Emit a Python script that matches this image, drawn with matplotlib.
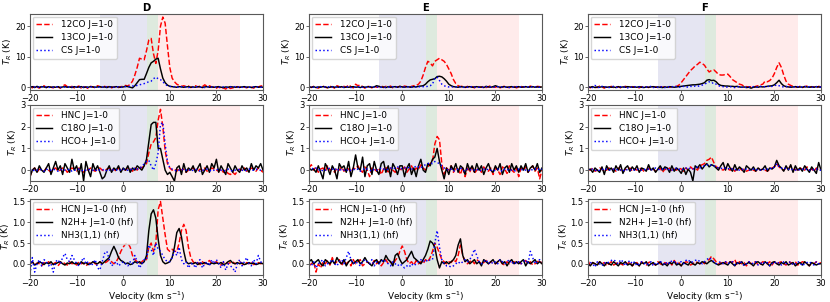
import numpy as np
import matplotlib
matplotlib.use("Agg")
import matplotlib.pyplot as plt

# velocity channels (km/s), 0.5 km/s spacing from -20 to 30
velocity = np.linspace(-20, 30, 101)

panel_titles = ["D", "E", "F"]
row_labels = [["12CO J=1-0", "13CO J=1-0", "CS J=1-0"],
              ["HNC J=1-0", "C18O J=1-0", "HCO+ J=1-0"],
              ["HCN J=1-0 (hf)", "N2H+ J=1-0 (hf)", "NH3(1,1) (hf)"]]

# ---------------- D ----------------
D_12CO = [0.3,-0.2,0.4,0.1,-0.3,0.2,0.5,-0.1,0.3,0.0,
          -0.2,0.3,0.1,-0.3,0.4,0.8,0.2,-0.1,0.3,-0.2,
          0.1,0.4,-0.3,0.2,0.0,-0.4,0.3,0.1,-0.2,0.5,
          0.2,-0.1,0.3,0.0,0.4,-0.2,0.1,0.3,-0.1,0.2,
          0.3,0.6,0.4,1.0,2.0,4.0,6.5,9.5,9.2,9.0,
          12.0,15.5,16.0,11.0,7.8,12.0,20.0,23.0,21.0,13.5,
          6.5,3.0,1.8,1.0,0.6,0.3,0.5,0.2,0.4,-0.1,
          0.3,0.5,0.1,0.4,0.2,0.8,0.3,0.5,0.1,0.0,
          -0.3,0.2,-0.5,-0.2,-0.6,0.1,-0.4,-0.2,0.0,0.2,
          -0.1,0.3,0.1,-0.2,0.2,0.0,-0.3,0.3,0.1,0.4,
          0.5]
D_13CO = [0.1,0.2,-0.1,0.3,0.0,0.2,0.1,-0.1,0.2,0.0,
          0.1,0.0,0.2,-0.1,0.1,0.2,0.0,0.1,-0.1,0.2,
          0.0,0.1,0.2,-0.1,0.1,0.0,0.2,0.1,0.0,0.1,
          0.2,0.0,0.1,-0.1,0.2,0.1,0.0,0.2,0.1,0.0,
          0.1,0.3,0.2,0.0,-0.2,0.5,1.5,2.5,2.6,2.6,
          4.5,6.5,8.0,8.5,9.2,9.5,6.0,3.0,1.5,0.7,
          0.3,0.2,0.1,0.0,0.2,0.1,0.0,0.1,0.2,0.0,
          0.1,0.0,0.2,0.1,-0.1,0.1,0.2,0.0,0.1,0.0,
          0.1,0.2,0.0,-0.1,0.1,0.0,0.2,0.1,0.0,0.1,
          0.0,0.1,0.2,0.0,0.1,-0.1,0.1,0.2,0.0,0.1,
          0.0]
D_CS = [0.2,0.0,0.1,-0.1,0.2,0.1,0.0,0.2,-0.1,0.1,
        0.0,0.2,0.1,0.0,-0.1,0.1,0.2,0.0,0.1,0.0,
        0.1,0.0,0.2,0.1,-0.1,0.0,0.1,0.2,0.0,0.1,
        0.0,0.1,-0.1,0.2,0.0,0.1,0.0,0.2,0.1,0.0,
        0.1,0.2,0.3,0.2,0.4,0.5,0.6,0.8,1.0,1.2,
        1.5,1.8,2.0,2.8,3.3,2.8,2.5,1.8,1.0,0.5,
        0.3,0.1,0.2,0.0,0.1,0.2,0.0,0.1,-0.1,0.1,
        0.0,0.2,0.1,0.0,0.1,-0.1,0.2,0.0,0.1,0.0,
        0.1,0.0,0.2,0.1,0.0,-0.1,0.1,0.0,0.2,0.0,
        0.1,0.0,-0.1,0.1,0.0,0.2,0.1,0.0,0.1,0.0,
        0.1]
D_HNC = [-0.3,0.0,0.1,-0.1,0.05,0.0,-0.05,0.1,0.0,-0.1,
         0.05,0.1,-0.05,0.0,0.1,0.05,-0.1,0.0,0.1,0.05,
         -0.05,0.1,0.0,-0.1,0.05,0.0,0.1,0.0,-0.05,0.05,
         0.1,0.0,-0.05,0.05,0.1,0.0,0.05,-0.05,0.1,0.0,
         0.05,0.0,0.1,0.05,-0.05,0.1,0.0,0.15,0.1,0.2,
         0.3,0.8,1.2,1.3,1.5,2.3,2.8,2.0,0.9,0.3,
         0.1,0.0,0.05,-0.05,0.1,0.0,0.05,-0.1,0.0,0.05,
         0.1,0.0,-0.05,0.05,0.0,0.1,-0.05,0.0,0.1,0.05,
         0.0,-0.05,0.05,-0.1,0.0,-0.15,-0.2,-0.1,-0.2,-0.05,
         0.05,0.0,0.1,-0.05,0.0,0.1,0.05,-0.05,0.1,0.0,
         -0.1]
D_C18O = [-0.3,0.0,0.1,-0.1,0.2,0.0,-0.1,0.1,0.3,-0.2,
          0.1,0.4,0.0,0.2,-0.2,0.3,0.1,-0.1,0.5,0.0,
          0.2,-0.2,0.3,-0.5,0.4,0.0,-0.3,0.3,0.0,0.2,
          -0.1,-0.4,-0.3,0.0,0.2,-0.1,0.1,0.0,0.2,-0.1,
          0.1,0.0,0.2,-0.1,0.1,0.0,0.2,0.1,0.0,0.2,
          0.5,1.3,2.1,2.2,2.2,1.0,1.0,0.5,0.0,-0.2,
          -0.1,-0.3,-0.5,0.1,0.2,-0.2,0.3,-0.1,0.1,0.0,
          0.2,-0.1,0.1,0.3,-0.2,0.0,0.2,-0.1,0.3,0.1,
          0.5,-0.1,0.2,0.0,-0.2,0.3,0.1,-0.1,0.2,0.0,
          -0.1,0.2,0.0,0.1,-0.1,0.3,0.0,0.2,0.1,0.3,
          0.0]
D_HCOp = [0.0,0.05,-0.05,0.0,0.05,0.0,-0.05,0.05,0.0,0.0,
          0.05,0.0,-0.05,0.0,0.05,0.0,0.0,0.05,-0.05,0.0,
          0.0,0.05,0.0,-0.05,0.0,0.05,0.0,0.0,-0.05,0.05,
          0.0,0.0,0.05,-0.05,0.0,0.05,0.0,0.0,0.05,0.0,
          0.05,0.0,0.0,0.05,0.0,0.1,0.05,0.1,0.15,0.3,
          0.4,0.45,0.2,0.0,0.3,0.8,2.1,2.2,1.2,0.4,
          0.1,0.05,0.0,-0.05,0.0,0.05,0.0,0.0,0.05,-0.05,
          0.0,0.05,0.0,-0.05,0.0,0.0,0.05,0.0,-0.05,0.0,
          0.05,0.0,0.0,-0.05,0.0,0.05,0.0,-0.05,0.0,0.0,
          0.05,0.0,-0.05,0.0,0.05,0.0,0.0,0.05,0.0,0.0,
          0.0]
D_HCN = [0.0,0.05,-0.03,0.02,0.0,-0.05,0.03,0.0,0.05,-0.02,
         0.0,0.03,-0.05,0.02,0.05,0.0,-0.03,0.05,0.0,0.02,
         -0.03,0.05,0.0,0.02,-0.05,0.0,0.03,0.05,0.0,-0.02,
         0.05,0.0,0.02,0.05,0.1,0.05,0.0,0.05,0.15,0.3,
         0.4,0.48,0.5,0.4,0.2,0.1,0.05,0.0,0.05,0.1,
         0.1,0.4,0.5,0.3,0.5,1.3,1.5,1.1,0.7,0.35,
         0.3,0.35,0.3,0.3,0.5,0.8,0.95,0.8,0.4,0.15,
         0.05,0.0,0.03,-0.02,0.05,0.0,0.03,0.08,0.0,0.02,
         0.05,0.0,-0.03,0.03,0.05,0.0,0.03,0.05,0.0,0.02,
         0.05,0.0,-0.03,0.03,0.0,0.05,-0.02,0.0,0.03,0.0,
         0.02]
D_N2Hp = [0.0,0.05,-0.03,0.0,0.05,0.02,-0.02,0.03,0.0,0.05,
          -0.02,0.0,0.03,0.05,0.0,-0.03,0.02,0.0,0.05,0.0,
          0.02,-0.02,0.05,0.0,0.03,-0.02,0.0,0.05,0.02,0.0,
          0.05,0.0,0.05,0.1,0.15,0.3,0.42,0.3,0.15,0.08,
          0.05,0.0,0.02,-0.02,0.0,0.05,0.02,0.05,0.0,0.05,
          0.2,0.8,1.2,1.3,1.1,0.6,0.2,0.05,0.0,0.02,
          0.05,0.15,0.4,0.75,0.85,0.65,0.3,0.05,0.0,0.02,
          0.0,0.03,-0.02,0.02,0.0,0.03,0.0,-0.02,0.02,0.0,
          0.02,0.0,0.03,-0.02,0.0,0.05,0.08,0.02,0.0,0.03,
          0.0,0.02,-0.02,0.0,0.03,0.0,0.02,-0.02,0.0,0.02,
          0.0]
D_NH3 = [-0.25,0.15,-0.2,0.0,0.1,-0.05,0.1,0.05,-0.05,0.0,
         -0.2,0.05,0.1,0.0,0.15,0.25,0.1,0.05,0.2,0.1,
         0.0,-0.05,0.05,0.15,0.0,0.05,-0.05,0.0,0.1,-0.1,
         -0.15,0.05,0.25,0.3,0.1,-0.05,0.0,0.05,-0.05,0.0,
         0.05,0.0,-0.05,0.05,0.0,0.2,0.05,-0.1,0.0,0.1,
         0.1,0.45,0.35,0.2,0.5,0.35,0.3,0.2,0.1,0.05,
         0.05,0.15,0.3,0.2,0.4,0.1,0.0,0.05,-0.1,0.0,
         0.0,-0.1,0.05,0.1,-0.1,0.0,0.05,-0.05,0.1,0.0,
         0.1,0.0,-0.1,0.05,-0.15,0.0,-0.05,-0.1,-0.2,0.0,
         0.1,-0.05,0.05,0.15,0.0,-0.05,0.1,0.0,0.2,0.05,
         0.0]

# ---------------- E ----------------
E_12CO = [0.2,-0.1,0.3,0.0,-0.3,0.2,0.4,0.0,-0.2,0.3,
          0.1,-0.3,0.5,0.2,-0.1,0.3,0.0,0.8,0.2,-0.2,
          1.0,0.5,0.8,0.2,-0.3,0.4,0.1,-0.2,0.3,0.0,
          0.2,0.5,-0.1,0.3,0.0,0.4,-0.2,0.2,0.1,0.3,
          0.0,0.4,0.2,-0.1,0.3,0.5,0.6,1.0,2.0,4.0,
          6.5,8.5,8.0,7.0,8.5,9.0,9.5,9.0,8.5,7.5,
          6.0,4.5,2.5,1.2,0.5,0.2,0.4,-0.1,0.3,0.0,
          0.2,-0.2,0.4,0.1,0.0,0.3,-0.1,0.2,0.5,0.1,
          0.0,0.3,-0.2,0.1,0.4,0.0,-0.1,0.2,0.3,-0.2,
          0.1,0.3,0.0,0.2,-0.1,0.4,0.1,0.0,0.3,0.2,
          0.0]
E_13CO = [0.1,0.0,0.2,-0.1,0.1,0.0,0.2,0.1,-0.1,0.0,
          0.2,0.0,0.1,0.0,0.2,-0.1,0.1,0.0,0.1,0.2,
          0.0,0.1,-0.1,0.2,0.0,0.1,0.2,0.0,0.1,0.5,
          0.3,0.0,0.1,-0.1,0.2,0.0,0.1,0.2,0.0,0.3,
          0.1,0.0,0.2,0.1,0.0,0.2,0.1,0.3,0.4,0.5,
          1.0,1.8,2.4,2.6,2.8,3.5,3.6,3.4,2.8,2.0,
          1.0,0.5,0.2,0.1,0.0,0.2,0.1,0.0,0.1,0.2,
          0.0,0.1,0.2,0.0,0.1,-0.1,0.3,0.1,0.0,0.2,
          0.5,0.2,0.0,0.1,0.2,0.0,0.1,0.2,0.0,0.1,
          0.2,0.0,0.1,0.2,0.0,0.1,0.2,0.0,0.1,0.0,
          0.1]
E_CS = [0.1,0.2,0.0,0.1,-0.1,0.2,0.0,0.1,0.2,0.0,
        0.1,-0.1,0.2,0.0,0.1,0.0,0.2,0.1,-0.1,0.1,
        0.0,0.2,0.1,0.0,0.1,-0.1,0.2,0.0,0.1,0.0,
        0.2,0.0,0.1,-0.1,0.1,0.0,0.2,0.1,0.0,0.1,
        0.0,0.1,0.2,0.0,0.1,0.0,0.1,0.2,0.1,0.2,
        0.2,0.3,0.5,1.0,3.0,3.3,2.2,1.0,0.5,0.2,
        0.1,0.0,0.2,0.1,0.0,0.1,-0.1,0.2,0.0,0.1,
        0.2,0.0,0.1,0.0,-0.1,0.1,0.2,0.0,0.1,0.0,
        0.1,0.2,0.0,0.1,0.0,0.2,-0.1,0.1,0.0,0.2,
        0.0,0.1,0.2,0.0,0.1,0.3,0.0,0.1,0.2,0.0,
        0.1]
E_HNC = [0.1,0.25,0.0,0.15,-0.1,0.05,0.1,-0.05,0.2,0.0,
         0.05,-0.1,0.1,0.0,0.15,-0.05,0.1,0.05,-0.1,0.1,
         0.05,0.2,0.0,-0.1,0.15,0.0,-0.3,0.1,0.05,-0.05,
         0.1,-0.2,0.05,0.15,-0.15,0.1,0.0,-0.1,0.1,0.05,
         0.0,0.15,-0.1,0.05,0.2,-0.05,0.1,0.0,0.25,0.1,
         0.0,0.15,0.3,0.4,1.2,1.55,1.4,0.3,-0.2,0.1,
         0.0,0.2,-0.1,0.1,0.05,-0.2,0.15,-0.3,0.1,-0.1,
         0.2,-0.15,0.0,0.1,-0.1,0.15,0.0,-0.05,0.1,-0.2,
         0.1,0.0,-0.2,0.15,0.05,-0.15,0.2,0.0,-0.1,0.1,
         -0.3,0.1,0.0,0.15,-0.1,0.05,0.2,-0.05,0.1,-0.4,
         0.0]
E_C18O = [0.1,0.0,0.05,-0.1,0.2,-0.1,-0.4,0.3,0.1,-0.2,
          0.2,0.0,-0.4,0.3,0.1,0.2,-0.1,0.4,-0.3,0.1,
          0.7,0.1,0.0,0.6,-0.3,0.2,0.3,-0.2,0.4,0.0,
          -0.2,0.3,0.4,-0.1,0.2,-0.3,0.3,0.1,-0.2,0.2,
          0.2,-0.3,0.1,0.3,-0.2,0.1,-0.3,0.2,0.5,0.0,
          -0.1,0.3,0.2,0.5,0.6,1.0,0.4,0.0,-0.4,0.1,
          -0.2,0.2,0.0,0.3,-0.1,0.2,0.1,-0.2,0.3,0.0,
          0.2,-0.1,0.3,0.0,0.2,-0.2,0.1,0.3,0.0,-0.1,
          0.2,0.0,0.3,-0.2,0.1,0.2,-0.1,0.3,0.0,0.2,
          -0.1,0.2,0.0,0.3,-0.1,0.1,0.2,0.0,0.3,-0.1,
          0.1]
E_HCOp = [0.0,0.1,0.05,0.1,0.0,0.05,-0.05,0.0,0.05,0.1,
          0.05,0.0,0.1,-0.05,0.05,0.0,0.05,-0.05,0.0,0.05,
          0.0,0.05,-0.05,0.0,0.1,0.05,0.0,-0.05,0.05,0.0,
          0.05,0.1,0.05,0.0,0.05,0.1,0.05,0.1,0.15,0.1,
          0.05,0.1,0.15,0.1,0.05,0.1,0.2,0.15,0.1,0.2,
          0.25,0.3,0.35,0.3,0.4,0.35,0.3,0.2,0.1,0.05,
          0.0,0.05,-0.05,0.0,0.05,0.1,0.0,-0.05,0.05,0.0,
          0.05,0.0,0.05,-0.05,0.0,0.05,0.0,0.05,0.0,-0.05,
          0.0,0.05,0.0,-0.05,0.05,0.0,0.05,0.0,-0.05,0.0,
          0.05,0.0,0.05,0.0,-0.05,0.05,0.0,0.05,0.1,0.0,
          0.05]
E_HCN = [-0.05,0.0,0.05,-0.2,0.0,-0.1,0.05,0.0,0.08,-0.03,
         0.15,0.0,0.05,0.1,-0.05,0.08,0.0,0.05,-0.05,0.1,
         0.0,0.05,0.1,-0.05,0.0,0.05,0.0,-0.03,0.08,0.0,
         0.05,-0.05,0.03,0.1,0.0,0.05,-0.03,0.08,0.15,0.3,
         0.43,0.3,0.1,0.0,0.05,-0.03,0.08,0.0,0.05,0.0,
         0.1,0.05,0.15,0.3,0.5,0.4,0.25,0.1,0.05,0.0,
         0.05,0.03,0.1,0.05,0.2,0.45,0.2,0.05,0.0,0.05,
         0.08,0.0,0.1,0.05,0.0,0.03,0.08,0.0,0.05,0.03,
         0.0,0.05,0.08,0.0,-0.03,0.05,0.0,0.03,0.05,0.0,
         0.05,0.0,0.03,0.08,0.0,0.05,-0.03,0.0,0.05,0.08,
         0.0]
E_N2Hp = [0.05,0.1,0.0,0.05,0.1,0.0,-0.05,0.1,0.05,0.0,
          0.08,0.0,0.15,0.05,0.0,0.1,-0.05,0.05,0.1,0.0,
          0.05,0.1,0.0,0.05,0.15,0.05,0.0,-0.05,0.05,0.1,
          0.0,0.1,0.05,0.2,0.1,0.05,-0.05,0.2,0.25,0.1,
          0.0,0.05,0.1,0.2,0.3,0.15,0.1,0.05,0.0,0.1,
          0.2,0.35,0.55,0.5,0.4,0.1,-0.1,0.05,0.0,0.05,
          0.0,0.05,0.1,0.2,0.45,0.6,0.2,0.05,0.1,0.0,
          0.05,0.1,0.0,0.05,-0.05,0.1,0.05,0.0,0.05,0.1,
          0.0,0.05,0.1,0.0,0.05,-0.05,0.05,0.1,0.0,0.05,
          0.0,0.05,0.1,-0.05,0.05,0.0,0.05,0.1,0.0,0.05,
          0.0]
E_NH3 = [0.0,-0.05,0.05,-0.1,0.0,0.05,0.1,-0.05,0.0,0.05,
         0.1,0.0,-0.05,0.05,0.1,0.0,0.15,0.3,0.1,0.0,
         0.05,0.0,-0.05,0.05,0.1,0.05,0.0,0.1,-0.05,0.05,
         0.0,0.05,0.1,0.05,0.0,-0.05,0.05,0.0,-0.05,0.0,
         -0.05,-0.1,-0.05,-0.08,0.0,-0.05,0.0,0.05,0.1,0.05,
         0.1,0.05,0.1,0.1,0.5,0.8,0.4,0.1,0.0,-0.05,
         -0.05,-0.08,-0.05,0.0,0.05,0.0,0.05,0.1,0.05,0.1,
         0.2,0.35,0.2,0.05,0.0,0.05,0.1,0.0,0.05,0.0,
         0.05,0.0,0.1,0.05,0.0,0.05,0.1,0.0,0.05,0.0,
         0.05,0.0,0.05,0.1,0.0,0.3,0.15,0.0,0.05,0.1,
         0.05]

# ---------------- F ----------------
F_12CO = [0.2,-0.2,0.3,0.0,-0.1,0.4,0.1,-0.3,0.2,0.0,
          0.3,-0.1,0.1,0.2,-0.2,0.0,0.3,0.1,-0.1,0.2,
          0.0,0.1,-0.2,0.2,0.0,0.1,-0.1,0.2,0.0,0.1,
          -0.1,0.2,0.0,0.1,0.3,0.0,0.2,0.1,0.3,0.7,
          1.5,2.5,3.5,4.5,5.5,6.2,7.0,7.5,8.2,7.8,
          7.2,6.0,5.0,5.5,5.7,5.0,4.2,4.0,4.0,4.2,
          4.3,3.5,2.5,2.0,1.5,1.0,0.8,0.3,0.2,0.1,
          0.2,0.0,0.3,0.5,0.8,1.0,2.0,1.8,2.2,3.0,
          4.5,6.5,8.0,6.5,4.0,2.0,1.0,0.6,0.3,0.2,
          0.0,0.3,-0.1,0.2,0.4,0.0,0.2,0.1,-0.2,0.3,
          0.1]
F_13CO = [0.1,0.0,0.2,-0.1,0.1,0.0,0.2,0.1,0.0,0.1,
          0.0,0.1,-0.1,0.2,0.0,0.1,0.0,0.2,0.1,0.0,
          0.1,0.0,0.2,0.0,-0.1,0.1,0.0,0.1,0.2,0.0,
          0.1,0.0,-0.1,0.1,0.0,0.2,0.1,0.0,0.1,0.2,
          0.3,0.4,0.5,0.6,0.7,0.8,0.8,0.9,1.0,1.2,
          1.5,2.3,2.5,2.2,2.3,1.8,1.0,0.6,0.5,0.4,
          0.4,0.3,0.3,0.2,0.3,0.1,0.0,0.1,-0.1,0.0,
          -0.3,0.0,0.1,0.0,0.2,0.1,0.2,0.3,0.4,0.5,
          0.8,1.5,2.3,1.2,0.5,0.2,0.1,0.0,0.1,0.2,
          0.0,0.1,0.0,0.2,0.1,0.0,0.1,0.0,0.2,0.1,
          0.0]
F_CS = [0.0,0.2,-0.1,0.6,0.1,-0.2,0.3,0.0,0.2,-0.1,
        0.1,0.3,0.0,-0.1,0.2,0.0,0.1,-0.2,0.1,0.0,
        0.2,0.0,0.1,-0.1,0.2,0.1,0.0,0.3,-0.1,0.1,
        0.0,0.2,0.1,-0.1,0.3,0.0,0.1,0.4,0.2,0.0,
        0.1,0.3,0.2,0.0,0.3,0.2,0.4,0.3,0.5,0.7,
        1.0,1.4,1.8,1.3,1.5,1.0,0.5,0.3,0.2,0.0,
        0.1,0.2,0.0,-0.1,0.2,0.1,0.0,0.2,-0.1,0.1,
        0.0,0.2,0.1,0.0,0.3,0.1,0.2,0.4,0.1,0.3,
        0.5,0.8,0.5,0.2,0.1,0.3,0.0,0.2,0.1,0.0,
        0.2,0.0,0.1,0.3,-0.1,0.2,0.0,0.1,0.2,0.0,
        0.1]
F_HNC = [0.05,0.0,0.1,-0.05,0.0,0.1,0.05,-0.05,0.0,0.1,
         0.0,0.05,-0.05,0.1,0.0,-0.1,0.05,0.0,0.1,-0.05,
         0.05,0.0,0.1,0.05,-0.05,0.0,0.1,0.0,0.05,-0.05,
         0.0,0.1,-0.1,0.05,0.0,0.1,-0.05,0.05,0.0,0.1,
         0.05,-0.05,0.1,0.0,0.15,0.05,0.1,0.0,0.2,0.25,
         0.3,0.45,0.5,0.6,0.35,0.15,0.1,0.05,0.0,0.1,
         0.05,0.0,0.1,-0.05,0.05,0.1,0.0,0.05,-0.05,0.0,
         0.05,0.0,-0.05,0.1,0.0,0.05,0.0,-0.05,0.05,0.1,
         0.15,0.3,0.15,0.05,0.0,0.1,0.05,0.2,0.0,0.05,
         -0.05,0.1,0.05,0.0,0.15,0.0,0.05,-0.05,0.1,0.0,
         0.05]
F_C18O = [0.0,0.05,-0.1,0.1,0.0,-0.1,0.15,-0.2,0.2,0.0,
          0.1,-0.1,0.2,0.0,0.25,-0.15,0.1,0.2,-0.05,0.15,
          0.0,0.2,-0.1,0.1,0.05,-0.05,0.25,0.0,0.1,-0.1,
          0.05,0.2,0.0,0.15,0.1,-0.1,0.2,-0.05,0.1,0.0,
          -0.15,0.1,-0.2,0.05,-0.1,-0.5,0.2,0.1,0.25,0.05,
          0.2,0.3,0.15,0.25,0.2,0.1,0.0,0.2,0.35,0.0,
          0.3,0.1,-0.05,0.25,0.0,0.15,0.05,-0.1,0.2,0.1,
          0.0,0.15,-0.05,0.1,0.0,0.05,0.2,-0.05,0.1,0.05,
          0.15,0.45,0.2,0.1,-0.05,0.2,0.0,0.25,-0.1,0.2,
          0.0,0.1,-0.05,0.2,0.05,-0.1,0.15,0.0,-0.15,0.35,
          0.0]
F_HCOp = [0.05,0.0,0.05,0.0,-0.05,0.0,0.05,0.0,0.05,0.0,
          0.0,0.05,0.0,0.05,0.0,-0.05,0.05,0.0,0.0,0.05,
          0.0,0.05,0.0,0.0,0.05,0.0,0.05,0.0,0.05,0.1,
          0.05,0.0,0.05,0.1,0.0,0.05,0.0,0.05,0.1,0.05,
          0.0,0.05,0.1,0.05,0.1,0.05,0.1,0.15,0.1,0.15,
          0.2,0.25,0.2,0.25,0.2,0.15,0.1,0.1,0.05,0.1,
          0.05,0.1,0.05,0.0,0.05,0.0,0.05,0.0,0.05,0.0,
          0.0,0.05,0.0,0.05,0.0,0.05,0.0,0.05,0.1,0.05,
          0.15,0.3,0.15,0.1,0.05,0.1,0.05,0.0,0.05,0.0,
          0.05,0.0,0.05,0.0,0.05,0.0,0.05,0.0,0.05,0.0,
          0.0]
F_HCN = [0.08,-0.05,0.03,0.0,-0.03,0.05,0.0,0.03,-0.05,0.0,
         0.05,-0.03,0.0,0.05,0.0,-0.03,0.03,0.0,0.05,-0.05,
         0.0,0.03,-0.05,0.05,0.0,-0.03,0.03,0.05,0.0,-0.03,
         0.05,0.0,-0.03,0.03,0.0,0.05,-0.03,0.08,0.0,0.03,
         -0.05,0.0,0.05,0.03,-0.03,0.0,0.05,0.03,0.0,0.05,
         0.0,0.08,0.1,0.18,0.12,0.05,0.0,0.03,-0.03,0.05,
         0.0,0.05,0.03,0.1,-0.03,0.05,0.0,0.03,-0.05,0.05,
         0.0,0.03,0.05,-0.03,0.0,0.05,0.03,0.0,0.05,-0.03,
         0.05,0.0,0.03,0.05,0.0,-0.03,0.05,0.03,0.0,0.05,
         -0.03,0.0,0.05,0.03,0.0,-0.05,0.03,0.0,0.05,0.0,
         0.03]
F_N2Hp = [0.0,-0.05,0.03,0.0,-0.03,0.05,0.0,-0.05,0.03,0.0,
          -0.03,0.05,0.0,-0.05,0.03,0.0,0.05,-0.03,0.0,-0.05,
          0.03,0.0,-0.05,0.03,0.0,0.05,-0.05,0.0,0.03,-0.03,
          0.0,0.05,-0.03,0.0,-0.05,0.03,0.0,0.05,-0.03,0.0,
          -0.05,0.03,0.0,-0.03,0.05,0.0,-0.03,0.03,0.0,0.05,
          0.03,0.0,0.05,0.08,0.03,0.0,-0.03,0.0,0.03,0.0,
          -0.03,0.05,0.0,-0.05,0.03,0.0,0.05,-0.03,0.0,0.03,
          0.0,-0.05,0.03,0.05,0.0,-0.03,0.05,0.0,-0.05,0.03,
          0.05,0.0,-0.03,0.03,0.0,0.05,-0.03,0.0,0.03,-0.05,
          0.0,0.03,-0.03,0.05,0.0,-0.05,0.03,0.0,-0.03,0.0,
          0.0]
F_NH3 = [-0.05,0.03,0.0,-0.08,0.05,0.0,-0.05,0.03,0.0,0.05,
         0.08,0.1,0.05,0.0,0.1,0.05,-0.05,0.03,0.08,0.0,
         0.05,-0.05,0.0,0.05,0.03,-0.03,0.0,0.05,-0.05,0.03,
         0.0,0.05,0.03,-0.03,0.05,0.0,0.08,0.05,0.0,0.03,
         0.05,0.0,0.08,0.1,0.03,0.05,0.08,0.1,0.05,0.0,
         0.05,0.1,0.15,0.1,0.05,0.0,0.03,0.05,0.0,0.05,
         0.0,0.03,0.05,-0.03,0.0,0.05,0.03,-0.05,0.0,0.05,
         0.03,0.0,0.05,-0.03,0.0,0.05,0.0,0.03,-0.05,0.0,
         0.05,0.0,0.03,-0.03,0.05,0.0,0.03,0.05,-0.03,0.0,
         0.05,0.03,-0.05,0.0,0.03,0.05,0.0,-0.03,0.05,0.0,
         0.03]

# velocity ranges of the shaded components (km/s)
blue_range = (-5, 5)
green_range = (5, 7.5)
red_range = (7.5, 25)

columns = [
    [[D_12CO, D_13CO, D_CS], [D_HNC, D_C18O, D_HCOp], [D_HCN, D_N2Hp, D_NH3]],
    [[E_12CO, E_13CO, E_CS], [E_HNC, E_C18O, E_HCOp], [E_HCN, E_N2Hp, E_NH3]],
    [[F_12CO, F_13CO, F_CS], [F_HNC, F_C18O, F_HCOp], [F_HCN, F_N2Hp, F_NH3]],
]

ylims = [(-0.9, 24.0), (-0.5, 3.0), (-0.27, 1.56)]
yticks = [[0, 10, 20], [0, 1, 2, 3], [0.0, 0.5, 1.0, 1.5]]
yfmt = ["{:.0f}", "{:.0f}", "{:.1f}"]

W, H = 830, 302
fig = plt.figure(figsize=(W / 100, H / 100), dpi=100)
lefts = [30, 309, 588]
tops = [14, 105, 199]
aw, ah = 233, 76
FS_TICK = 6.0
FS = 6.4

styles = [dict(color="red", ls="--"), dict(color="black", ls="-"), dict(color="blue", ls=":")]

for c in range(3):
    for r in range(3):
        ax = fig.add_axes([lefts[c] / W, 1 - (tops[r] + ah) / H, aw / W, ah / H])
        ax.axvspan(*blue_range, color="navy", alpha=0.1, lw=0)
        ax.axvspan(*green_range, color="darkgreen", alpha=0.13, lw=0)
        ax.axvspan(*red_range, color="red", alpha=0.08, lw=0)
        for k in range(3):
            ax.plot(velocity, columns[c][r][k], lw=1.05, label=row_labels[r][k], **styles[k])
        ax.set_xlim(-20, 30)
        ax.set_ylim(*ylims[r])
        ax.set_xticks([-20, -10, 0, 10, 20, 30])
        ax.set_xticklabels(["\u221220", "\u221210", "0", "10", "20", "30"])
        ax.set_yticks(yticks[r])
        ax.set_yticklabels([yfmt[r].format(v) for v in yticks[r]])
        ax.tick_params(labelsize=FS_TICK, length=2.2, width=0.6, pad=1.0,
                       color="0.3")
        for s in ax.spines.values():
            s.set_linewidth(0.8)
            s.set_color("0.35")
        ax.set_ylabel("$T_R$ (K)", fontsize=FS, labelpad=0.5)
        if r == 2:
            ax.set_xlabel("Velocity (km s$^{-1}$)", fontsize=FS, labelpad=0.5)
        if r == 0:
            ax.set_title(panel_titles[c], fontsize=FS + 0.8, fontweight="bold", pad=2)
        ax.legend(loc="upper left", fontsize=FS, handlelength=1.8, borderpad=0.4,
                  labelspacing=0.45, handletextpad=1.0, borderaxespad=0.3,
                  frameon=True, framealpha=0.8)

fig.savefig("out.png", dpi=100)
